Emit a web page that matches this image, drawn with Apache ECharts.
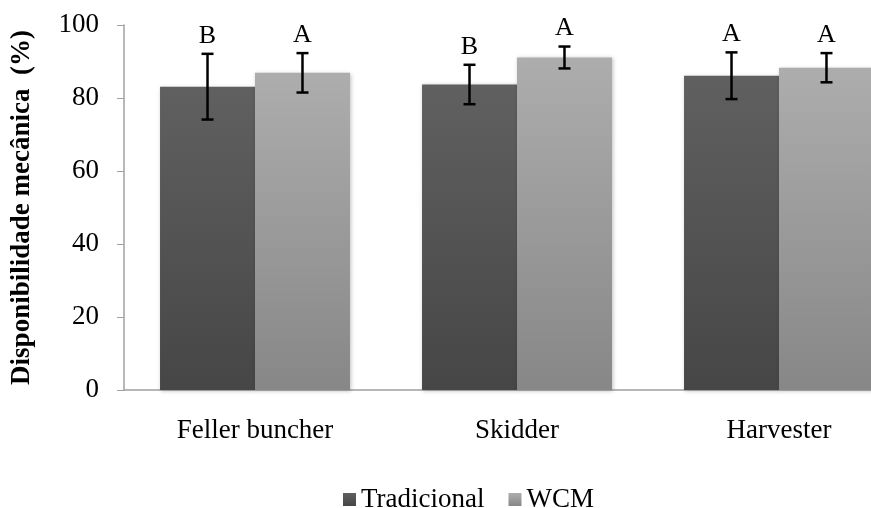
<!DOCTYPE html>
<html><head><meta charset="utf-8">
<script src="https://cdn.jsdelivr.net/npm/echarts@6/dist/echarts.min.js"></script>
<style>html,body{margin:0;padding:0;background:#fff}#c{width:871px;height:508px}</style>
</head><body><div id="c"></div>
<script>
const categories = ['Feller buncher', 'Skidder', 'Harvester'];
const tradicional = [83.1, 83.7, 86.1];
const wcm = [86.9, 91.1, 88.3];
const tradErr = [9.0, 5.4, 6.4];
const wcmErr = [5.4, 3.0, 4.0];
const tradLetters = ['B', 'B', 'A'];
const wcmLetters = ['A', 'A', 'A'];
const yTicks = [0, 20, 40, 60, 80, 100];

const FONT = '"Liberation Serif", "Times New Roman", serif';
const BAR_GAP_CAT = 0.275;

function errSeries(name, vals, errs, letters, side) {
  return {
    type: 'custom',
    name: name + '-err',
    z: 10,
    silent: true,
    data: vals.map((v, i) => [i, v, errs[i], letters[i]]),
    renderItem: function (params, api) {
      const i = api.value(0);
      const v = api.value(1);
      const e = api.value(2);
      const catW = api.size([1, 0])[0];
      const barW = catW * (1 - BAR_GAP_CAT) / 2;
      const c = api.coord([i, v]);
      const x = c[0] + side * barW / 2;
      const top = api.coord([i, v + e])[1];
      const bot = api.coord([i, v - e])[1];
      const cap = 6;
      const st = { stroke: '#000', lineWidth: 2.5 };
      return {
        type: 'group',
        children: [
          { type: 'line', shape: { x1: x, y1: top, x2: x, y2: bot }, style: st },
          { type: 'line', shape: { x1: x - cap, y1: top, x2: x + cap, y2: top }, style: st },
          { type: 'line', shape: { x1: x - cap, y1: bot, x2: x + cap, y2: bot }, style: st },
          { type: 'text', style: { text: letters[i], x: x, y: top - 5, textAlign: 'center', textVerticalAlign: 'bottom', font: '26px ' + FONT, fill: '#000' } }
        ]
      };
    }
  };
}

const chart = echarts.init(document.getElementById('c'), null, { renderer: 'canvas' });
chart.setOption({
  animation: false,
  backgroundColor: '#fff',
  grid: { left: 124, top: 25, right: -39, bottom: 118, containLabel: false, outerBoundsMode: 'none' },
  legend: {
    data: ['Tradicional', 'WCM'],
    left: 338, top: 481,
    itemWidth: 13, itemHeight: 13, itemGap: 24,
    icon: 'rect',
    textStyle: { fontFamily: FONT, fontSize: 27, color: '#000' }
  },
  xAxis: {
    type: 'category',
    data: categories,
    axisLine: { lineStyle: { color: '#a0a0a0', width: 1.5 } },
    axisTick: { show: false },
    axisLabel: { margin: 27, fontFamily: FONT, fontSize: 27, color: '#000' }
  },
  yAxis: {
    type: 'value',
    min: 0, max: 100, interval: 20,
    name: 'Disponibilidade mecânica  (%)',
    nameLocation: 'middle',
    nameGap: 88,
    nameTextStyle: { fontFamily: FONT, fontSize: 27, fontWeight: 'bold', color: '#000' },
    splitLine: { show: false },
    axisLine: { show: true, lineStyle: { color: '#a0a0a0', width: 1.5 } },
    axisTick: { show: true, inside: false, length: 7, lineStyle: { color: '#a0a0a0' } },
    axisLabel: { margin: 25, fontFamily: FONT, fontSize: 27, color: '#000',
      formatter: v => yTicks.includes(v) ? String(v) : '' }
  },
  series: [
    {
      name: 'Tradicional', type: 'bar', data: tradicional,
      barGap: '0%', barCategoryGap: (BAR_GAP_CAT * 100) + '%',
      itemStyle: {
        color: new echarts.graphic.LinearGradient(0, 0, 0, 1, [
          { offset: 0, color: '#606060' }, { offset: 1, color: '#464646' }]),
        shadowColor: 'rgba(0,0,0,0.25)', shadowBlur: 4, shadowOffsetX: 1, shadowOffsetY: 1
      }
    },
    {
      name: 'WCM', type: 'bar', data: wcm,
      barGap: '0%', barCategoryGap: (BAR_GAP_CAT * 100) + '%',
      itemStyle: {
        color: new echarts.graphic.LinearGradient(0, 0, 0, 1, [
          { offset: 0, color: '#adadad' }, { offset: 1, color: '#878787' }]),
        shadowColor: 'rgba(0,0,0,0.25)', shadowBlur: 4, shadowOffsetX: 1, shadowOffsetY: 1
      }
    },
    errSeries('Tradicional', tradicional, tradErr, tradLetters, -1),
    errSeries('WCM', wcm, wcmErr, wcmLetters, 1)
  ]
});
</script></body></html>
